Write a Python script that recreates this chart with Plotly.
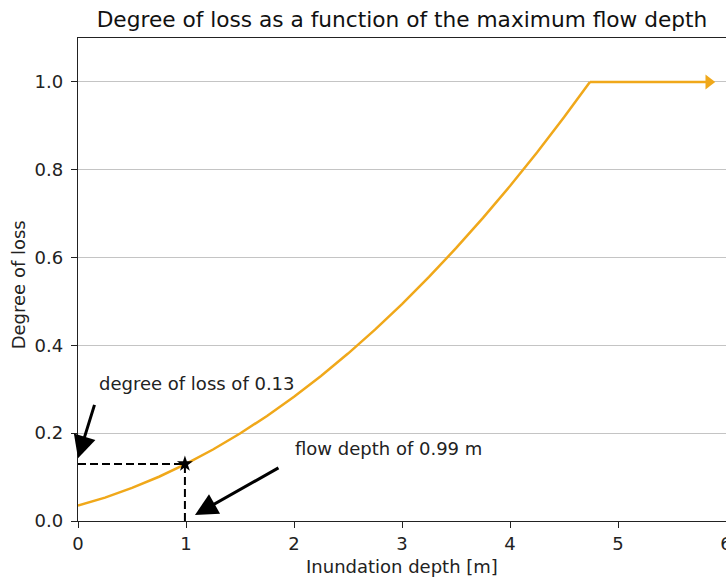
import plotly.graph_objects as go

# Curve
depth = [0.0, 0.25, 0.5, 0.75, 1.0, 1.25, 1.5, 1.75, 2.0, 2.25, 2.5, 2.75, 3.0, 3.25, 3.5, 3.75, 4.0, 4.25, 4.5, 4.74]
loss = [0.0350, 0.0533, 0.0753, 0.1008, 0.1300, 0.1628, 0.1993, 0.2393, 0.2830, 0.3303, 0.3813, 0.4358,
        0.4940, 0.5558, 0.6213, 0.6903, 0.7630, 0.8393, 0.9193, 1.0]
plateau_x = [4.74, 5.84]
plateau_y = [1.0, 1.0]

point_x = 0.99
point_y = 0.13

x_ticks = [0, 1, 2, 3, 4, 5, 6]
y_ticks = [0.0, 0.2, 0.4, 0.6, 0.8, 1.0]

orange = "#F0A81A"
font = "DejaVu Sans"
txt = "#222222"

fig = go.Figure()
fig.add_trace(go.Scatter(x=depth, y=loss, mode="lines", line=dict(color=orange, width=2.5),
                         showlegend=False, hoverinfo="skip"))
fig.add_trace(go.Scatter(x=plateau_x, y=plateau_y, mode="lines",
                         line=dict(color=orange, width=2.5),
                         showlegend=False, hoverinfo="skip"))
fig.add_trace(go.Scatter(x=plateau_x[-1:], y=plateau_y[-1:], mode="markers",
                         marker=dict(symbol="triangle-right", size=13, color=orange, line=dict(width=0)),
                         showlegend=False, hoverinfo="skip", cliponaxis=False))
# dashed guide lines
fig.add_trace(go.Scatter(x=[0, point_x, point_x], y=[point_y, point_y, 0], mode="lines",
                         line=dict(color="black", width=2, dash="8px,4px"), showlegend=False, hoverinfo="skip"))
fig.add_trace(go.Scatter(x=[point_x], y=[point_y], mode="markers",
                         marker=dict(symbol="star", size=12, color="black"), showlegend=False, hoverinfo="skip"))

annotations = [
    dict(x=0.0, y=0.143, ax=0.157, ay=0.268, xref="x", yref="y", axref="x", ayref="y",
         text="", showarrow=True, arrowhead=2, arrowsize=1.5, arrowwidth=3, arrowcolor="black"),
    dict(x=0.176, y=0.314, xref="x", yref="y", text="degree of loss of 0.13", showarrow=False,
         xanchor="left", yanchor="middle", font=dict(family=font, size=18, color=txt)),
    dict(x=1.083, y=0.0136, ax=1.87, ay=0.123, xref="x", yref="y", axref="x", ayref="y",
         text="", showarrow=True, arrowhead=2, arrowsize=1.5, arrowwidth=3, arrowcolor="black"),
    dict(x=1.99, y=0.164, xref="x", yref="y", text="flow depth of 0.99 m", showarrow=False,
         xanchor="left", yanchor="middle", font=dict(family=font, size=18, color=txt)),
    # axis titles
    dict(x=0.5, y=0, xref="paper", yref="paper", yshift=-45, text="Inundation depth [m]", showarrow=False,
         xanchor="center", yanchor="middle", font=dict(family=font, size=18, color=txt)),
    dict(x=-0.0926, y=0.49, xref="paper", yref="paper", text="Degree of loss", showarrow=False, textangle=-90,
         xanchor="center", yanchor="middle", font=dict(family=font, size=18, color=txt)),
]

fig.update_layout(
    width=726, height=577,
    margin=dict(l=78, r=0, t=38, b=56, autoexpand=False),
    paper_bgcolor="white", plot_bgcolor="white",
    font=dict(family=font, size=18, color=txt),
    title=dict(text="Degree of loss as a function of the maximum flow depth", xref="paper", x=0.5,
               xanchor="center", y=0.966, yanchor="middle", font=dict(family=font, size=21.7, color="#111")),
    annotations=annotations,
    xaxis=dict(range=[0, 6], tickvals=x_ticks, ticktext=[str(t) for t in x_ticks], automargin=False,
               showgrid=False, zeroline=False, showline=True, linecolor="#222", linewidth=1.4,
               mirror=True, ticks="outside", ticklen=6, tickwidth=1.3, tickcolor="#222",
               ticklabeloverflow="allow", tickfont=dict(size=18, color=txt)),
    yaxis=dict(range=[0, 1.1], tickvals=y_ticks, ticktext=[f"{t:.1f}" for t in y_ticks], automargin=False,
               showgrid=True, gridcolor="#c4c4c4", gridwidth=1.3, zeroline=False,
               showline=True, linecolor="#222", linewidth=1.4,
               ticks="outside", ticklen=6, tickwidth=1.3, tickcolor="#222", ticklabelstandoff=4,
               tickfont=dict(size=18, color=txt)),
)

fig.write_html("out.html", config={"displayModeBar": False},
               post_script="document.body.style.margin='0';document.body.style.overflow='hidden';")
